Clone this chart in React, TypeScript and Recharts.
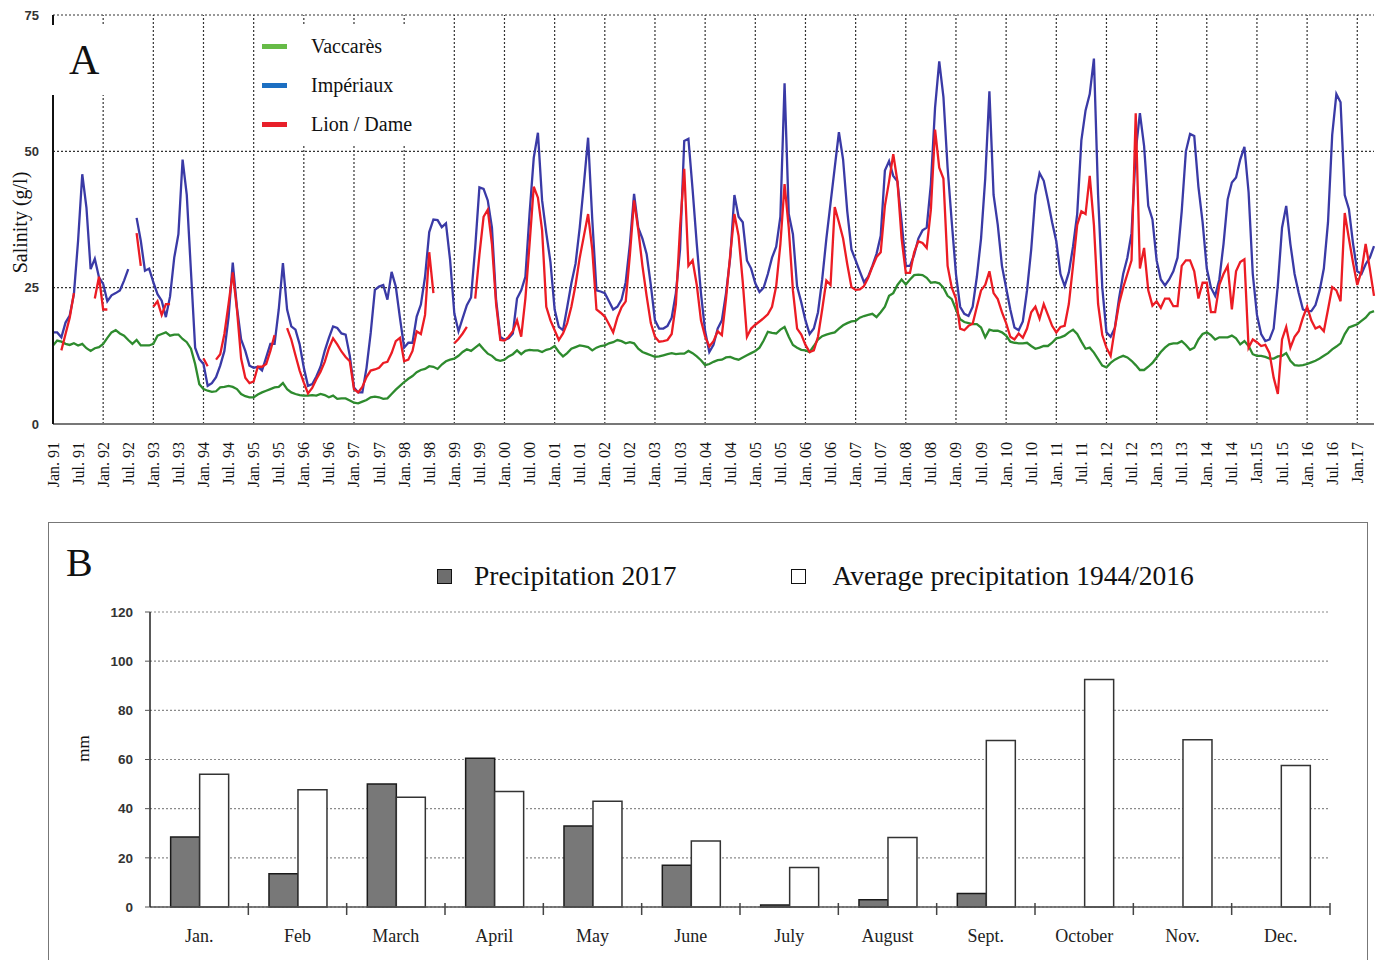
import React from 'react';
import {
  LineChart,
  Line,
  XAxis,
  YAxis,
  CartesianGrid,
  ReferenceLine,
  Legend,
  BarChart,
  Bar,
} from 'recharts';

const SERIF = "'Liberation Serif', 'Times New Roman', serif";
const SANS = "'Liberation Sans', Arial, sans-serif";

// ---- Panel A: monthly salinity (g/l), Jan 91 .. May 17 ----
const years = [
  '91', '92', '93', '94', '95', '96', '97', '98', '99', '00', '01', '02', '03', '04',
  '05', '06', '07', '08', '09', '10', '11', '12', '13', '14', '15', '16', '17',
];
const monthNames = ['Jan', 'Feb', 'Mar', 'Apr', 'May', 'Jun', 'Jul', 'Aug', 'Sep', 'Oct', 'Nov', 'Dec'];

const vaccares = [
  [14.4, 15.3, 15.1, 14.7, 14.5, 14.8, 14.4, 14.7, 13.9, 13.4, 13.9, 14.1],
  [14.7, 15.8, 16.8, 17.2, 16.6, 16.2, 15.4, 14.7, 15.4, 14.4, 14.4, 14.4],
  [14.7, 16.2, 16.5, 16.8, 16.2, 16.4, 16.4, 15.6, 15.0, 13.8, 11.0, 7.3],
  [6.4, 6.1, 5.9, 6.0, 6.7, 6.8, 7.0, 6.8, 6.4, 5.5, 5.1, 4.9],
  [4.9, 5.4, 5.8, 6.1, 6.4, 6.7, 6.8, 7.5, 6.4, 5.8, 5.5, 5.3],
  [5.2, 5.2, 5.3, 5.2, 5.5, 5.3, 4.9, 5.2, 4.6, 4.7, 4.7, 4.3],
  [3.9, 3.8, 4.1, 4.4, 4.9, 5.0, 4.9, 4.6, 4.7, 5.5, 6.3, 7.0],
  [7.7, 8.3, 8.8, 9.5, 9.9, 10.1, 10.6, 10.5, 10.1, 10.9, 11.5, 11.8],
  [12.0, 12.5, 13.2, 13.7, 13.4, 14.0, 14.6, 13.7, 12.9, 12.5, 11.8, 11.6],
  [11.8, 12.4, 12.8, 13.5, 12.8, 13.4, 13.6, 13.5, 13.5, 13.2, 13.6, 13.8],
  [14.3, 13.2, 12.4, 13.0, 13.8, 14.1, 14.4, 14.3, 14.1, 13.5, 14.0, 14.3],
  [14.4, 14.8, 15.0, 15.4, 15.2, 14.8, 15.0, 14.8, 13.8, 13.2, 12.9, 12.6],
  [12.3, 12.4, 12.6, 12.8, 13.0, 12.8, 12.9, 12.9, 13.4, 13.0, 12.4, 11.7],
  [10.8, 11.0, 11.4, 11.7, 11.8, 12.2, 12.3, 12.0, 11.8, 12.2, 12.6, 13.0],
  [13.4, 14.0, 15.3, 16.9, 16.7, 16.6, 17.3, 17.8, 16.0, 14.5, 14.0, 13.6],
  [13.5, 13.2, 14.3, 15.5, 16.1, 16.4, 16.6, 16.8, 17.5, 18.1, 18.5, 18.8],
  [18.9, 19.5, 19.8, 20.0, 20.2, 19.6, 20.5, 21.5, 23.5, 24.0, 25.5, 26.5],
  [25.6, 26.5, 27.3, 27.4, 27.3, 26.8, 25.9, 26.0, 25.8, 25.0, 23.5, 22.9],
  [21.0, 19.2, 18.7, 18.5, 18.3, 18.3, 17.7, 15.9, 17.3, 17.1, 17.1, 16.8],
  [16.2, 15.1, 14.9, 14.8, 14.8, 14.9, 14.3, 13.8, 14.0, 14.3, 14.3, 14.9],
  [15.7, 15.9, 16.2, 16.8, 17.3, 16.5, 15.1, 13.8, 14.0, 13.1, 11.9, 10.7],
  [10.4, 11.2, 11.8, 12.2, 12.5, 12.2, 11.6, 10.8, 9.9, 9.9, 10.5, 11.2],
  [12.2, 13.2, 14.0, 14.6, 14.8, 14.8, 15.2, 14.5, 13.6, 14.0, 15.5, 16.5],
  [16.8, 16.3, 15.5, 15.9, 15.9, 15.9, 16.2, 15.7, 14.6, 15.2, 14.3, 12.8],
  [12.5, 12.5, 12.3, 12.0, 12.0, 12.4, 12.5, 13.0, 11.6, 10.8, 10.7, 10.8],
  [11.0, 11.3, 11.6, 12.0, 12.5, 13.0, 13.7, 14.2, 14.8, 16.5, 17.7, 18.0],
  [18.3, 18.9, 19.5, 20.4, 20.7],
];

const imperiaux = [
  [16.8, 16.8, 15.9, 18.6, 19.9, 23.8, 33.6, 45.8, 39.7, 28.4, 30.3, 26.9],
  [25.7, 22.5, 23.6, 24.0, 24.5, 26.3, 28.4, null, 37.8, 33.6, 28.1, 28.5],
  [26.0, 23.8, 22.6, 19.6, 23.4, 30.5, 34.8, 48.5, 42.0, 28.0, 14.0, 11.9],
  [11.0, 7.0, 7.5, 8.6, 10.7, 13.4, 19.6, 29.6, 21.4, 15.5, 13.4, 10.7],
  [10.3, 10.5, 9.8, 12.2, 14.7, 14.7, 21.0, 29.5, 21.0, 17.9, 17.3, 14.6],
  [10.3, 7.0, 7.3, 8.7, 10.5, 13.4, 15.8, 17.9, 17.6, 16.6, 16.4, 12.5],
  [6.7, 5.8, 5.8, 10.3, 16.7, 24.6, 25.2, 25.5, 22.8, 27.9, 25.2, 19.4],
  [14.0, 14.9, 14.9, 19.7, 21.9, 27.0, 35.2, 37.5, 37.4, 36.1, 36.8, 30.0],
  [20.3, 17.0, 19.4, 21.8, 23.2, 32.4, 43.4, 43.1, 41.0, 36.0, 22.7, 16.0],
  [15.4, 15.7, 16.6, 23.0, 24.5, 27.0, 38.6, 48.8, 53.4, 41.0, 35.0, 29.7],
  [21.0, 17.8, 17.2, 21.4, 25.8, 29.4, 36.0, 44.0, 52.5, 37.5, 24.5, 24.3],
  [24.0, 22.5, 21.0, 21.5, 22.8, 26.0, 33.0, 42.2, 36.0, 34.0, 31.2, 25.5],
  [19.0, 17.5, 17.5, 18.0, 19.5, 24.0, 32.0, 51.9, 52.3, 43.0, 33.0, 24.0],
  [17.0, 13.2, 14.5, 17.5, 19.0, 24.0, 30.5, 42.0, 38.0, 37.0, 30.0, 28.5],
  [25.8, 24.2, 25.0, 27.5, 30.5, 32.5, 38.0, 62.5, 38.5, 34.8, 25.2, 22.3],
  [19.0, 16.5, 17.5, 20.5, 26.5, 34.0, 40.5, 47.0, 53.5, 48.5, 39.0, 32.0],
  [30.0, 28.0, 26.0, 27.0, 29.0, 31.2, 34.5, 46.5, 48.2, 45.5, 44.5, 37.0],
  [29.0, 29.0, 31.0, 34.0, 35.5, 36.0, 44.0, 58.0, 66.5, 60.0, 47.0, 37.0],
  [27.5, 21.5, 20.2, 19.8, 21.5, 27.0, 34.0, 45.0, 61.0, 42.0, 36.5, 29.0],
  [25.0, 21.0, 17.7, 17.2, 18.8, 24.5, 32.0, 42.0, 46.0, 44.6, 41.0, 37.0],
  [33.5, 27.5, 25.3, 27.8, 32.5, 38.5, 52.0, 57.5, 60.5, 67.0, 42.0, 25.0],
  [16.8, 16.0, 17.6, 23.0, 27.5, 30.5, 35.0, 50.0, 57.0, 51.0, 40.0, 37.5],
  [30.0, 26.5, 25.4, 26.5, 28.0, 30.5, 39.0, 50.0, 53.2, 52.8, 43.5, 37.0],
  [28.5, 25.0, 23.5, 26.5, 33.0, 41.2, 44.3, 45.2, 48.5, 50.8, 42.5, 27.5],
  [20.0, 16.5, 15.2, 15.5, 17.5, 25.5, 36.0, 40.0, 33.0, 27.5, 24.0, 21.0],
  [20.7, 20.7, 21.8, 24.5, 28.5, 37.0, 53.0, 60.5, 59.0, 42.0, 39.4, 33.0],
  [28.0, 27.5, 29.3, 30.5, 32.6],
];

const lionDame = [
  [null, null, 13.5, 16.5, 19.5, 24.0, null, null, null, null, 23.0, 27.0],
  [21.0, 21.0, null, null, null, null, null, null, 35.0, 29.0, null, null],
  [21.5, 22.5, 20.0, 22.0, 22.0, null, null, null, null, null, null, null],
  [12.0, 10.6, null, 11.8, 12.8, 16.5, 22.0, 27.8, 21.0, 12.0, 8.5, 7.5],
  [7.8, 10.5, 10.5, 11.0, 13.4, 16.3, null, null, 17.6, 15.5, 12.6, 9.8],
  [7.6, 5.6, 6.6, 8.2, 9.6, 11.4, 13.9, 15.7, 14.6, 13.3, 12.3, 11.5],
  [6.4, 5.8, 6.8, 8.6, 9.8, 10.0, 10.3, 11.2, 11.4, 13.0, 15.2, 15.8],
  [11.5, 11.8, 13.4, 17.0, 16.5, 20.0, 31.5, 24.0, null, null, null, null],
  [14.8, 15.6, 16.6, 17.8, null, 23.0, 31.0, 38.0, 39.3, 33.0, 22.0, 15.4],
  [15.3, 16.0, 17.0, 19.0, 16.0, 23.0, 33.0, 43.5, 41.5, 35.5, 21.5, 19.0],
  [17.2, 15.4, 16.6, 18.5, 21.5, 25.5, 30.5, 34.5, 38.5, 32.0, 21.0, 20.4],
  [19.7, 18.3, 16.8, 19.5, 21.4, 22.5, 31.0, 41.0, 35.6, 29.0, 23.5, 18.5],
  [16.0, 15.1, 15.2, 15.4, 16.5, 22.0, 36.0, 46.8, 29.0, 30.0, 25.5, 19.0],
  [16.0, 14.2, 15.2, 17.0, 16.3, 23.0, 31.0, 38.5, 34.5, 26.0, 16.0, 17.5],
  [18.2, 18.8, 19.4, 20.1, 21.5, 25.3, 33.0, 44.0, 36.0, 24.5, 17.5, 16.4],
  [14.5, 13.2, 13.5, 16.0, 21.0, 26.3, 25.5, 39.8, 37.0, 34.0, 29.3, 25.1],
  [24.6, 24.7, 25.3, 26.8, 28.8, 30.6, 31.5, 40.0, 44.5, 49.5, 44.5, 34.0],
  [27.7, 27.7, 31.5, 33.5, 33.2, 32.3, 39.3, 54.0, 47.0, 45.0, 29.0, 25.0],
  [23.0, 17.5, 17.2, 18.0, 18.4, 21.5, 24.5, 25.5, 28.0, 24.0, 22.9, 20.5],
  [18.5, 16.0, 15.5, 16.6, 15.8, 17.5, 20.5, 21.5, 19.3, 22.0, 20.0, 18.0],
  [16.8, 17.8, 18.0, 22.0, 29.0, 36.5, 39.0, 38.5, 45.5, 36.5, 22.0, 16.3],
  [14.0, 12.5, 17.5, 22.0, 25.0, 27.5, 30.0, 57.0, 28.5, 32.3, 24.5, 21.7],
  [22.5, 21.3, 23.0, 23.0, 21.6, 21.6, 29.0, 30.0, 30.0, 28.0, 23.0, 25.9],
  [25.9, 20.5, 20.5, 25.5, 27.5, 29.0, 21.0, 28.0, 29.7, 30.2, 14.0, 15.5],
  [15.0, 14.3, 14.5, 13.0, 8.5, 5.5, 15.5, 17.8, 14.0, 16.0, 17.0, 19.5],
  [21.5, 19.0, 17.5, 17.9, 17.0, 21.0, 25.1, 24.5, 22.5, 38.7, 34.0, 29.5],
  [25.5, 28.0, 33.0, 28.5, 23.5],
];

const salinityTicks = [0, 25, 50, 75];

const salinityData = years
  .flatMap((yy, i) =>
    monthNames.map((mm, j) => ({
      month: `${mm} ${yy}`,
      vaccares: vaccares[i][j],
      imperiaux: imperiaux[i][j],
      lionDame: lionDame[i][j],
    }))
  )
  .filter((d) => d.vaccares !== undefined);

const tickKeys = salinityData
  .map((d) => d.month)
  .filter((m) => m.startsWith('Jan') || m.startsWith('Jul'));
const januaryKeys = years.slice(1).map((yy) => `Jan ${yy}`);
const squashedLabels: Record<string, string> = { 'Jan 15': 'Jan.15', 'Jan 17': 'Jan.17' };
const tickLabel = (key: string) => squashedLabels[key] || key.replace(' ', '. ');

// ---- Panel B: monthly precipitation (mm) ----
const precipMonths = ['Jan.', 'Feb', 'March', 'April', 'May', 'June', 'July', 'August', 'Sept.', 'October', 'Nov.', 'Dec.'];
const precip2017 = [28.5, 13.5, 50, 60.5, 33, 17, 0.8, 3, 5.5, null, null, null];
const precipAverage = [54, 47.7, 44.6, 47, 43, 26.8, 16.1, 28.3, 67.7, 92.5, 68, 57.6];
const precipTicks = [0, 20, 40, 60, 80, 100, 120];

const precipData = precipMonths.map((month, i) => ({
  month,
  precip2017: precip2017[i],
  average: precipAverage[i],
}));

// legend order as in the figure
const seriesOrder = ['vaccares', 'imperiaux', 'lionDame', 'precip2017', 'average'];
const byOrder = (item: any) => seriesOrder.indexOf(item.dataKey);

const legendIconColor: Record<string, string> = {
  vaccares: '#66bb47',
  imperiaux: '#1c6fc2',
  lionDame: '#e8202a',
};

const rotatedLabel = (text: string, x: number, fontSize: number, dy = 0) => (props: any) => {
  const vb = props.viewBox || { y: 0, height: 0 };
  const cy = vb.y + vb.height / 2 + dy;
  return (
    <text
      x={x}
      y={cy}
      transform={`rotate(-90 ${x} ${cy})`}
      textAnchor="middle"
      dominantBaseline="central"
      fontFamily={SERIF}
      fontSize={fontSize}
      fill="#111"
    >
      {text}
    </text>
  );
};

const SalinityTick = (props: any) => {
  const { x, y, payload } = props;
  return (
    <text
      x={x}
      y={y}
      transform={`rotate(-90 ${x} ${y})`}
      textAnchor="end"
      dominantBaseline="central"
      fontFamily={SERIF}
      fontSize={16}
      fill="#111"
    >
      {tickLabel(payload.value)}
    </text>
  );
};

const PrecipTick = (props: any) => {
  const { x, y, payload } = props;
  const half = payload.offset || 0;
  const axisY = y - 22;
  return (
    <g>
      {half ? (
        <line x1={x + half} x2={x + half} y1={axisY - 4} y2={axisY + 8} stroke="#444" strokeWidth={1.5} />
      ) : null}
      <text x={x} y={y} textAnchor="middle" dominantBaseline="hanging" fontFamily={SERIF} fontSize={18} fill="#222">
        {payload.value}
      </text>
    </g>
  );
};

const SalinityLegend = ({ payload }: any) => (
  <div style={{ background: '#fff', padding: '2px 6px 0 6px', width: 172 }}>
    {(payload || []).map((p: any) => (
      <div key={p.dataKey} style={{ display: 'flex', alignItems: 'center', height: 39 }}>
        <span
          style={{ display: 'inline-block', width: 25, height: 5, background: legendIconColor[p.dataKey], marginRight: 24 }}
        />
        <span style={{ fontFamily: SERIF, fontSize: 20, color: '#111' }}>{p.value}</span>
      </div>
    ))}
  </div>
);

const PrecipLegend = ({ payload }: any) => (
  <div style={{ display: 'flex', alignItems: 'center', height: 30 }}>
    {(payload || []).map((p: any, i: number) => (
      <div key={p.dataKey} style={{ display: 'flex', alignItems: 'center', marginLeft: i === 0 ? 0 : 115 }}>
        <span
          style={{
            display: 'inline-block',
            width: 13,
            height: 13,
            background: p.dataKey === 'precip2017' ? '#6e6e6e' : '#fff',
            border: '1.5px solid #111',
            marginRight: i === 0 ? 22 : 26,
          }}
        />
        <span style={{ fontFamily: SERIF, fontSize: 27.5, color: '#111', whiteSpace: 'nowrap' }}>{p.value}</span>
      </div>
    ))}
  </div>
);

const App: React.FC = () => {
  return (
    <div style={{ position: 'absolute', left: 0, top: 0, width: 1382, height: 960, background: '#fff', overflow: 'hidden' }}>
      <div style={{ position: 'absolute', left: 0, top: 0 }}>
        <LineChart width={1382} height={500} data={salinityData} margin={{ top: 15, right: 8, left: 0, bottom: 0 }}>
          <CartesianGrid vertical={false} stroke="#333" strokeDasharray="2 2" strokeWidth={1.2} />
          {januaryKeys.map((k) => (
            <ReferenceLine key={k} x={k} stroke="#333" strokeDasharray="2 2" strokeWidth={1.2} />
          ))}
          <XAxis
            dataKey="month"
            ticks={tickKeys}
            interval={0}
            height={76}
            tickSize={0}
            tickMargin={18}
            tickLine={false}
            axisLine={{ stroke: '#777', strokeWidth: 2 }}
            tick={<SalinityTick />}
          />
          <YAxis
            domain={[0, 75]}
            ticks={salinityTicks}
            width={53}
            tickSize={0}
            tickMargin={14}
            tickLine={false}
            axisLine={{ stroke: '#111', strokeWidth: 2 }}
            tick={{ fontFamily: SANS, fontSize: 13, fontWeight: 700, fill: '#333' }}
            label={rotatedLabel('Salinity (g/l)', 20, 20, 3)}
          />
          <Legend
            layout="vertical"
            align="center"
            verticalAlign="middle"
            itemSorter={byOrder}
            wrapperStyle={{ left: 256, top: 25, width: 184 }}
            content={<SalinityLegend />}
          />
          <Line type="linear" dataKey="vaccares" name="Vaccarès" stroke="#2e8b2e" strokeWidth={2.3} dot={false} isAnimationActive={false} />
          <Line type="linear" dataKey="imperiaux" name="Impériaux" stroke="#3a3aa6" strokeWidth={2.3} dot={false} isAnimationActive={false} />
          <Line type="linear" dataKey="lionDame" name="Lion / Dame" stroke="#ec1c24" strokeWidth={2.3} dot={false} isAnimationActive={false} />
        </LineChart>
      </div>

      <div
        style={{
          position: 'absolute',
          left: 50,
          top: 25,
          width: 55,
          height: 70,
          background: '#fff',
          fontFamily: SERIF,
          fontSize: 42,
          lineHeight: '70px',
          paddingLeft: 19,
          boxSizing: 'border-box',
          color: '#111',
        }}
      >
        A
      </div>

      <div
        style={{
          position: 'absolute',
          left: 48,
          top: 522,
          width: 1320,
          height: 470,
          border: '1.5px solid #777',
          boxSizing: 'border-box',
        }}
      />
      <div style={{ position: 'absolute', left: 66, top: 543, fontFamily: SERIF, fontSize: 40, lineHeight: '40px', color: '#111' }}>
        B
      </div>

      <div style={{ position: 'absolute', left: 48, top: 522 }}>
        <BarChart
          width={1320}
          height={438}
          data={precipData}
          margin={{ top: 90, right: 38, left: 0, bottom: 0 }}
          barCategoryGap="21%"
          barGap={0}
        >
          <CartesianGrid vertical={false} stroke="#8a8a8a" strokeDasharray="2 2" strokeWidth={1.2} />
          <XAxis
            dataKey="month"
            interval={0}
            height={53}
            tickSize={0}
            tickMargin={22}
            tickLine={false}
            axisLine={{ stroke: '#555', strokeWidth: 1.5 }}
            tick={<PrecipTick />}
          />
          <YAxis
            domain={[0, 120]}
            ticks={precipTicks}
            width={102}
            tickSize={5}
            tickMargin={12}
            axisLine={{ stroke: '#222', strokeWidth: 1.5 }}
            tickLine={{ stroke: '#555' }}
            tick={{ fontFamily: SANS, fontSize: 13.5, fontWeight: 700, fill: '#333' }}
            label={rotatedLabel('mm', 35, 17, -11)}
          />
          <Legend
            layout="vertical"
            align="center"
            verticalAlign="middle"
            itemSorter={byOrder}
            wrapperStyle={{ left: 389, top: 39, width: 'auto' }}
            content={<PrecipLegend />}
          />
          <Bar dataKey="precip2017" name="Precipitation 2017" fill="#787878" stroke="#1a1a1a" strokeWidth={1.5} isAnimationActive={false} />
          <Bar dataKey="average" name="Average precipitation 1944/2016" fill="#fff" stroke="#333" strokeWidth={1.5} isAnimationActive={false} />
        </BarChart>
      </div>
    </div>
  );
};

export default App;
